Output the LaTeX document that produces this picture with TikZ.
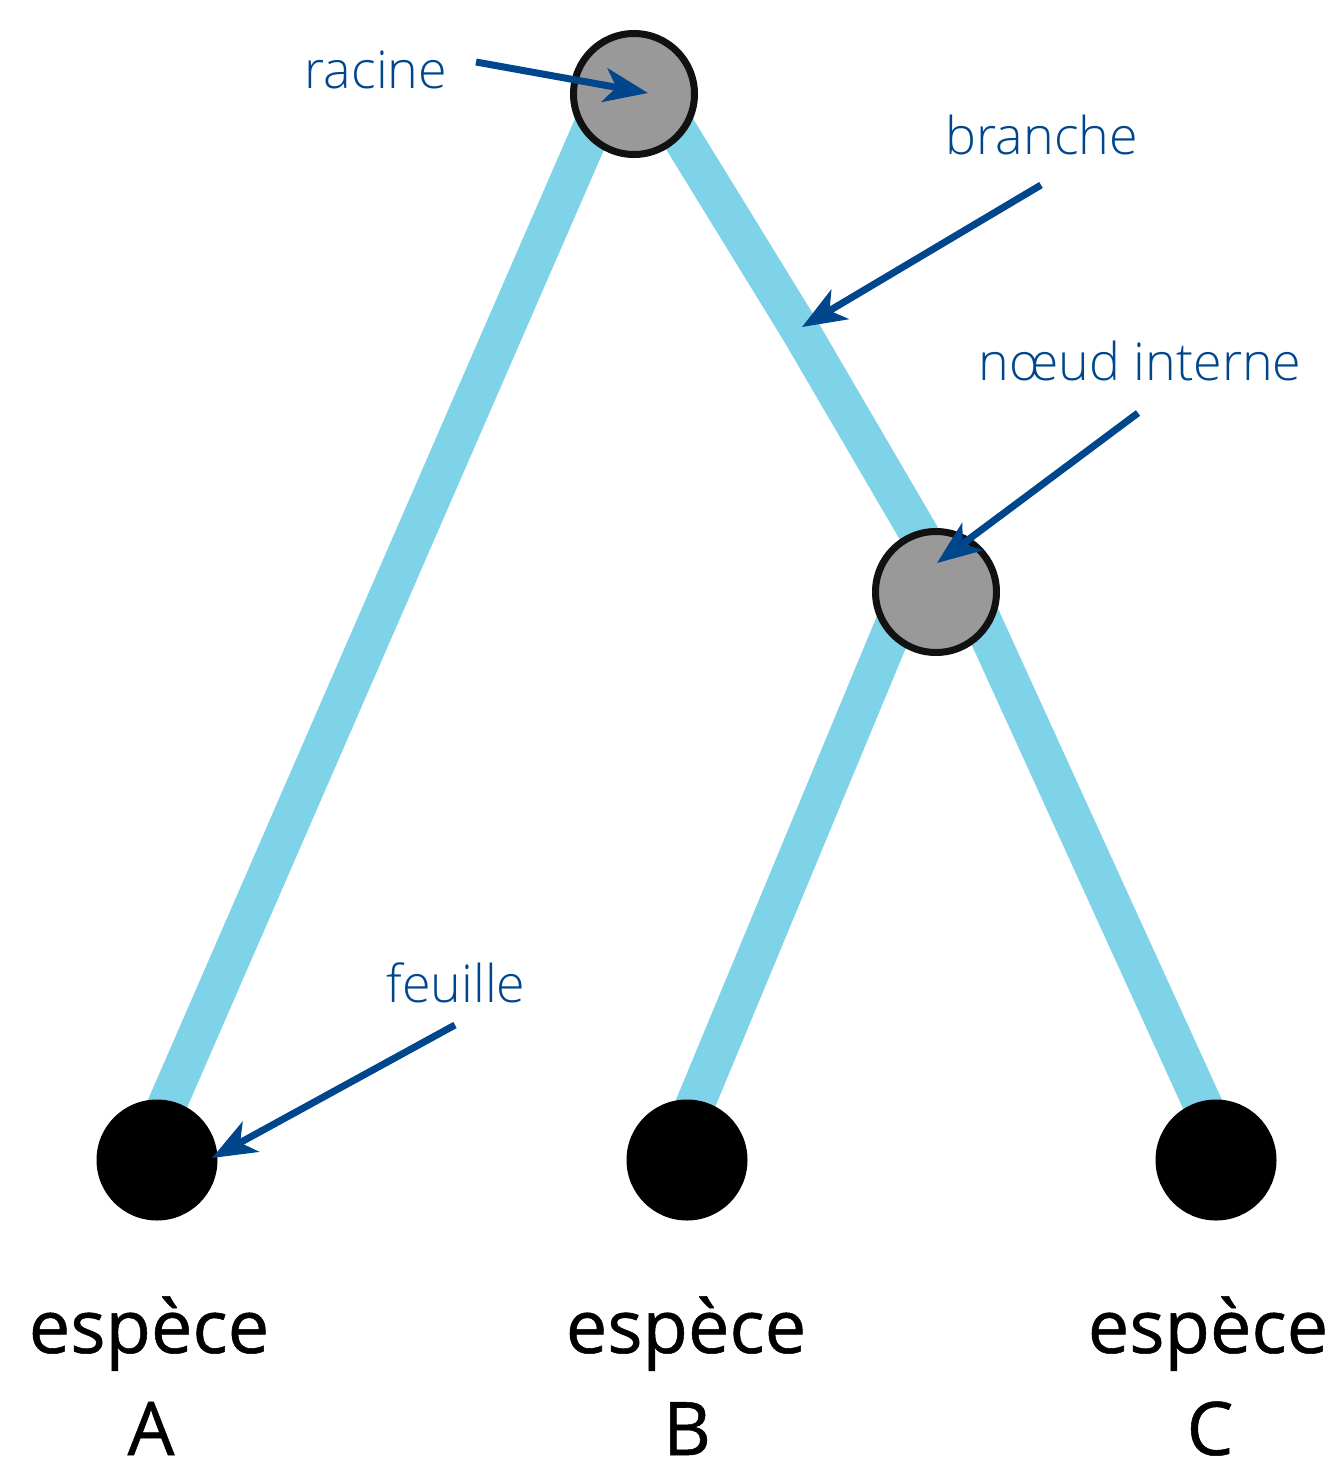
\documentclass[tikz,border=0pt]{standalone}
\usepackage{fontspec}
\setmainfont{Open Sans}
\newfontfamily\oslight{Open Sans Light}
\newfontfamily\osreg[FakeBold=0.7]{Open Sans}
\usetikzlibrary{arrows.meta}
\definecolor{branchblue}{RGB}{127,211,232}
\definecolor{labelblue}{RGB}{0,70,140}
\definecolor{nodegray}{RGB}{153,153,153}
\definecolor{ringblack}{RGB}{17,17,17}
\begin{document}
\begin{tikzpicture}[x=0.5pt,y=-0.5pt,
  branch/.style={draw=branchblue, line width=19.5pt},
  innernode/.style={circle, draw=ringblack, line width=3.5pt, fill=nodegray, minimum size=60.5pt, inner sep=0pt},
  leafnode/.style={circle, fill=black, minimum size=60.5pt, inner sep=0pt},
  lbl/.style={text=labelblue, font=\oslight\fontsize{26}{30}\selectfont, anchor=base, inner sep=0pt},
  species/.style={font=\osreg\fontsize{37}{40}\selectfont, anchor=base, inner sep=0pt},
  pointer/.style={draw=labelblue, line width=3.5pt, -{Stealth[length=22pt,width=17pt,inset=6pt]}}]
\useasboundingbox (0,0) rectangle (1336,1468);

% node positions
\coordinate (rootc) at (634,94);
\coordinate (intc) at (936,592);
\coordinate (Ac) at (157,1160);
\coordinate (Bc) at (687,1160);
\coordinate (Cc) at (1216,1160);
\coordinate (kink) at (800,330);

% branches
\draw[branch] ([xshift=-13.5pt]rootc) -- ([xshift=-7pt]Ac);
\draw[branch] ([xshift=10.5pt]rootc) -- (kink) -- ([xshift=8.5pt]intc);
\draw[branch] ([xshift=-14pt]intc) -- ([xshift=-7.5pt]Bc);
\draw[branch] ([xshift=16.5pt]intc) -- ([xshift=6pt]Cc);

% nodes
\node[innernode] (root) at (rootc) {};
\node[innernode] (int) at (intc) {};
\node[leafnode] (A) at (Ac) {};
\node[leafnode] (B) at (Bc) {};
\node[leafnode] (C) at (Cc) {};

% labels
\node[lbl] (lracine) at (376,88) {racine};
\node[lbl] (lbranche) at (1042,154) {branche};
\node[lbl] (lnoeud) at (1140,380) {nœud interne};
\node[lbl] (lfeuille) at (456,1002) {feuille};

\node[species] (sA) at (149,1353) {espèce};
\node[species] (sB) at (686,1353) {espèce};
\node[species] (sC) at (1208,1353) {espèce};
\node[species] (nA) at (151,1455) {A};
\node[species] (nB) at (687,1455) {B};
\node[species] (nC) at (1210,1455) {C};

% pointer arrows
\coordinate (pr0) at (476,62);   \coordinate (pr1) at (648,93);
\coordinate (pb0) at (1041,185); \coordinate (pb1) at (802,327);
\coordinate (pn0) at (1138,413); \coordinate (pn1) at (937,563);
\coordinate (pf0) at (455,1025); \coordinate (pf1) at (212,1158);
\draw[pointer] (pr0) -- (pr1);
\draw[pointer] (pb0) -- (pb1);
\draw[pointer] (pn0) -- (pn1);
\draw[pointer] (pf0) -- (pf1);
\end{tikzpicture}
\end{document}
